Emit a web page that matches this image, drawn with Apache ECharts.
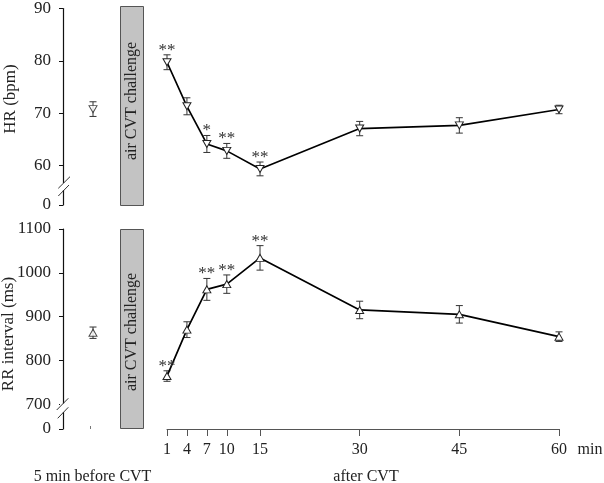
<!DOCTYPE html>
<html><head><meta charset="utf-8">
<script src="https://cdn.jsdelivr.net/npm/echarts@6/dist/echarts.min.js"></script>
<style>html,body{margin:0;padding:0;background:#fff}#c{width:604px;height:483px}</style>
</head><body><div id="c"></div>
<script>
// ---- data ----
const minutes = [1, 4, 7, 10, 15, 30, 45, 60];
const hrMean = [79.4, 71.1, 64.0, 62.7, 59.3, 66.9, 67.5, 70.5];
const hrErr  = [1.4, 1.6, 1.6, 1.4, 1.3, 1.35, 1.45, 0.8];
const hrStars = ['**', '', '*', '**', '**', '', '', ''];
const hrPre = [70.8];
const hrPreErr = [1.4];
const rrMean = [764, 870, 962, 974, 1034, 915, 905, 854];
const rrErr  = [12, 18, 25, 21, 28, 20, 20, 11];
const rrStars = ['**', '', '**', '**', '**', '', '', ''];
const rrPre = [863];
const rrPreErr = [13];
// broken axes: lowest tick stands for 0
const hrTicks = [52.5, 60, 70, 80, 90];
const hrTickLabels = ['0', '60', '70', '80', '90'];
const rrTicks = [643, 700, 800, 900, 1000, 1100];
const rrTickLabels = ['0', '700', '800', '900', '1000', '1100'];
const xTicks = [1, 4, 7, 10, 15, 30, 45, 60];

const FONT = '"Liberation Serif", "Times New Roman", serif';
const chart = echarts.init(document.getElementById('c'));

function yAxisVisible(grid, min, max, ticks, labels) {
  return {
    type: 'value', gridIndex: grid, min: min, max: max,
    splitLine: { show: false },
    axisLine: { show: true, lineStyle: { color: '#111', width: 1.2 } },
    axisTick: { show: true, length: 4, customValues: ticks, lineStyle: { color: '#111' } },
    axisLabel: {
      customValues: ticks, margin: 12, color: '#222', fontFamily: FONT, fontSize: 17,
      formatter: v => labels[ticks.indexOf(v)]
    }
  };
}
function yHidden(grid, min, max) {
  return { type: 'value', gridIndex: grid, min: min, max: max, show: false };
}
function errSeries(xi, yi, xs, means, errs) {
  return {
    type: 'custom', xAxisIndex: xi, yAxisIndex: yi, z: 3,
    data: xs.map((x, i) => [x, means[i], errs[i]]),
    renderItem: (params, api) => {
      const x = api.value(0), m = api.value(1), e = api.value(2);
      const hi = api.coord([x, m + e]), lo = api.coord([x, m - e]);
      const w = 3.5, st = { stroke: '#333', lineWidth: 1 };
      return { type: 'group', children: [
        { type: 'line', shape: { x1: hi[0], y1: hi[1], x2: lo[0], y2: lo[1] }, style: st },
        { type: 'line', shape: { x1: hi[0] - w, y1: hi[1], x2: hi[0] + w, y2: hi[1] }, style: st },
        { type: 'line', shape: { x1: lo[0] - w, y1: lo[1], x2: lo[0] + w, y2: lo[1] }, style: st }
      ]};
    }
  };
}
function starSeries(xi, yi, means, errs, stars) {
  return {
    type: 'custom', xAxisIndex: xi, yAxisIndex: yi, z: 5,
    data: minutes.map((m, i) => [m, means[i] + errs[i]]),
    renderItem: (params, api) => {
      const s = stars[params.dataIndex];
      if (!s) return null;
      const p = api.coord([api.value(0), api.value(1)]);
      return { type: 'text', style: { text: s, x: p[0], y: p[1] + 4, align: 'center',
        verticalAlign: 'bottom', font: '17px ' + FONT, fill: '#333' } };
    }
  };
}
const mark = { color: '#fff', borderColor: '#222', borderWidth: 1 };

chart.setOption({
  animation: false,
  backgroundColor: '#fff',
  grid: [
    { left: 63, top: 6, width: 60, height: 199 },
    { left: 167, top: 6, width: 392, height: 199 },
    { left: 63, top: 229, width: 60, height: 200 },
    { left: 167, top: 229, width: 392, height: 200 }
  ],
  xAxis: [
    { type: 'value', gridIndex: 0, min: 0, max: 1, show: false },
    { type: 'value', gridIndex: 1, min: 1, max: 60, show: false },
    { type: 'value', gridIndex: 2, min: 0, max: 1, splitLine: { show: false },
      axisLine: { show: false }, axisLabel: { show: false },
      axisTick: { show: true, customValues: [0.45], length: 3, inside: true, lineStyle: { color: '#777' } } },
    { type: 'value', gridIndex: 3, min: 1, max: 60, splitLine: { show: false },
      axisLine: { show: true, lineStyle: { color: '#555', width: 1 } },
      axisTick: { show: true, length: 7, customValues: xTicks, lineStyle: { color: '#555' } },
      axisLabel: { customValues: xTicks, margin: 13, color: '#222', fontFamily: FONT, fontSize: 16 } }
  ],
  yAxis: [
    yAxisVisible(0, 52.5, 90, hrTicks, hrTickLabels),
    yHidden(1, 52.5, 90),
    yAxisVisible(2, 643, 1100, rrTicks, rrTickLabels),
    yHidden(3, 643, 1100)
  ],
  series: [
    errSeries(1, 1, minutes, hrMean, hrErr),
    { type: 'line', xAxisIndex: 1, yAxisIndex: 1, z: 4, data: minutes.map((m, i) => [m, hrMean[i]]),
      symbol: 'triangle', symbolRotate: 180, symbolSize: [8, 7], showSymbol: true,
      itemStyle: mark, lineStyle: { color: '#000', width: 1.7 } },
    starSeries(1, 1, hrMean, hrErr, hrStars),
    errSeries(0, 0, [0.5], hrPre, hrPreErr),
    { type: 'scatter', xAxisIndex: 0, yAxisIndex: 0, z: 4, data: [[0.5, hrPre[0]]],
      symbol: 'triangle', symbolRotate: 180, symbolSize: [8, 7], itemStyle: mark },
    errSeries(3, 3, minutes, rrMean, rrErr),
    { type: 'line', xAxisIndex: 3, yAxisIndex: 3, z: 4, data: minutes.map((m, i) => [m, rrMean[i]]),
      symbol: 'triangle', symbolSize: [8, 7], showSymbol: true,
      itemStyle: mark, lineStyle: { color: '#000', width: 1.7 } },
    starSeries(3, 3, rrMean, rrErr, rrStars),
    errSeries(2, 2, [0.5], rrPre, rrPreErr),
    { type: 'scatter', xAxisIndex: 2, yAxisIndex: 2, z: 4, data: [[0.5, rrPre[0]]],
      symbol: 'triangle', symbolSize: [8, 7], itemStyle: mark }
  ],
  graphic: [
    { type: 'rect', z: 10, shape: { x: 120.5, y: 6.5, width: 23, height: 199 }, style: { fill: '#c3c3c3', stroke: '#555', lineWidth: 1 } },
    { type: 'rect', z: 10, shape: { x: 120.5, y: 229.5, width: 23, height: 199 }, style: { fill: '#c3c3c3', stroke: '#555', lineWidth: 1 } },
    { type: 'text', z: 11, x: 132, y: 101, rotation: Math.PI / 2, style: { text: 'air CVT challenge', align: 'center', verticalAlign: 'middle', font: '16px ' + FONT, fill: '#222' } },
    { type: 'text', z: 11, x: 132, y: 332, rotation: Math.PI / 2, style: { text: 'air CVT challenge', align: 'center', verticalAlign: 'middle', font: '16px ' + FONT, fill: '#222' } },
    { type: 'text', z: 11, x: 11, y: 99, rotation: Math.PI / 2, style: { text: 'HR (bpm)', align: 'center', verticalAlign: 'middle', font: '17px ' + FONT, fill: '#222' } },
    { type: 'text', z: 11, x: 9, y: 334, rotation: Math.PI / 2, style: { text: 'RR interval (ms)', align: 'center', verticalAlign: 'middle', font: '17px ' + FONT, fill: '#222' } },
    { type: 'text', z: 11, x: 590, y: 450, style: { text: 'min', align: 'center', verticalAlign: 'middle', font: '16px ' + FONT, fill: '#222' } },
    { type: 'text', z: 11, x: 92.5, y: 476.5, style: { text: '5 min before CVT', align: 'center', verticalAlign: 'middle', font: '16px ' + FONT, fill: '#222' } },
    { type: 'text', z: 11, x: 366, y: 477, style: { text: 'after CVT', align: 'center', verticalAlign: 'middle', font: '16px ' + FONT, fill: '#222' } },
    // axis break marks
    { type: 'rect', z: 10, shape: { x: 60, y: 183, width: 7, height: 7 }, style: { fill: '#fff' } },
    { type: 'line', z: 11, shape: { x1: 58.3, y1: 188.3, x2: 70, y2: 176.7 }, style: { stroke: '#333', lineWidth: 1 } },
    { type: 'line', z: 11, shape: { x1: 58.3, y1: 196, x2: 69, y2: 185 }, style: { stroke: '#333', lineWidth: 1 } },
    { type: 'rect', z: 10, shape: { x: 60, y: 403.5, width: 7, height: 8.5 }, style: { fill: '#fff' } },
    { type: 'line', z: 11, shape: { x1: 56.7, y1: 410, x2: 68.3, y2: 398.3 }, style: { stroke: '#333', lineWidth: 1 } },
    { type: 'line', z: 11, shape: { x1: 57.7, y1: 418.3, x2: 68.3, y2: 407.3 }, style: { stroke: '#333', lineWidth: 1 } }
  ]
});
</script>
</body></html>
